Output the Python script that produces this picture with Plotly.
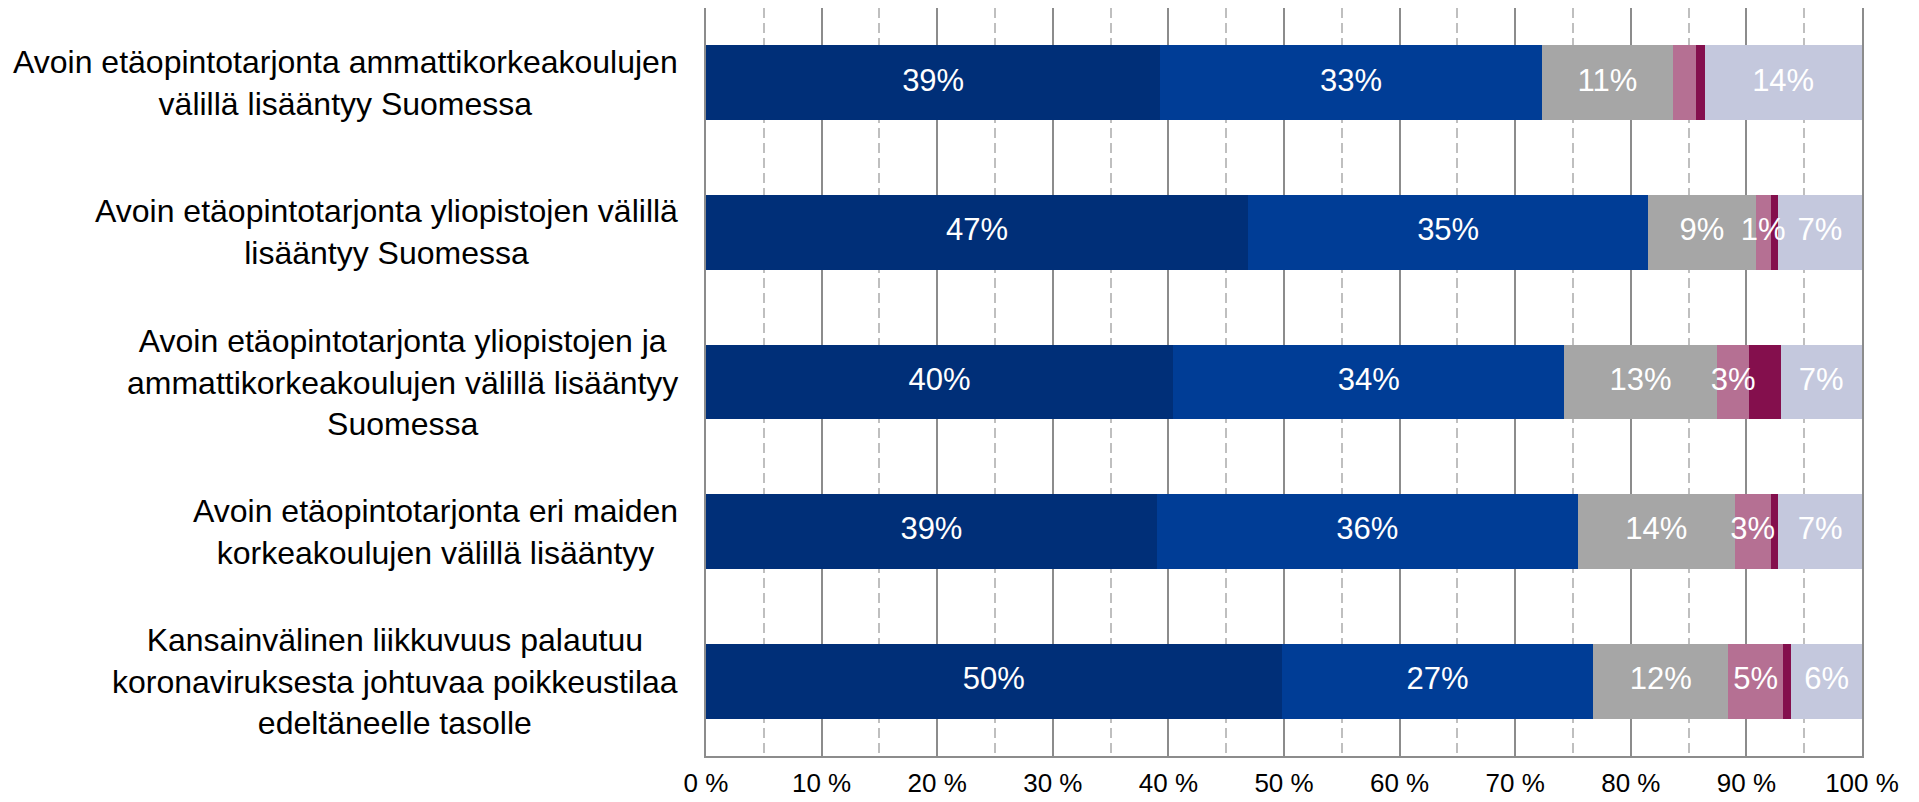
import plotly.graph_objects as go

categories = [
    "Avoin etäopintotarjonta ammattikorkeakoulujen<br>välillä lisääntyy Suomessa",
    "Avoin etäopintotarjonta yliopistojen välillä<br>lisääntyy Suomessa",
    "Avoin etäopintotarjonta yliopistojen ja<br>ammattikorkeakoulujen välillä lisääntyy<br>Suomessa",
    "Avoin etäopintotarjonta eri maiden<br>korkeakoulujen välillä lisääntyy",
    "Kansainvälinen liikkuvuus palautuu<br>koronaviruksesta johtuvaa poikkeustilaa<br>edeltäneelle tasolle",
]

s1_values = [39.3, 46.9, 40.4, 39.0, 49.8]
s2_values = [33.0, 34.6, 33.85, 36.4, 26.95]
s3_values = [11.35, 9.3, 13.2, 13.6, 11.7]
s4_values = [2.0, 1.3, 2.8, 3.1, 4.7]
s5_values = [0.73, 0.6, 2.7, 0.65, 0.75]
s6_values = [13.6, 7.3, 7.05, 7.25, 6.1]

s1_labels = ["39%", "47%", "40%", "39%", "50%"]
s2_labels = ["33%", "35%", "34%", "36%", "27%"]
s3_labels = ["11%", "9%", "13%", "14%", "12%"]
s4_labels = ["", "1%", "3%", "3%", "5%"]
s5_labels = ["", "", "", "", ""]
s6_labels = ["14%", "7%", "7%", "7%", "6%"]

x_tickvals = [0, 10, 20, 30, 40, 50, 60, 70, 80, 90, 100]
x_ticktext = ["0 %", "10 %", "20 %", "30 %", "40 %", "50 %", "60 %", "70 %", "80 %", "90 %", "100 %"]

series = [
    (s1_values, s1_labels, "#002F78"),
    (s2_values, s2_labels, "#003D96"),
    (s3_values, s3_labels, "#A6A6A6"),
    (s4_values, s4_labels, "#B57093"),
    (s5_values, s5_labels, "#840F4D"),
    (s6_values, s6_labels, "#C4C8DD"),
]

FONT = "Arial, 'Liberation Sans', sans-serif"

fig = go.Figure()
for vals, labels, color in series:
    fig.add_trace(go.Bar(
        y=categories, x=vals, orientation="h",
        marker=dict(color=color, line=dict(width=0)),
        textposition="none",
        hoverinfo="skip", showlegend=False,
    ))

# value labels drawn on top of all segments, centred in each segment
lab_x, lab_y, lab_t = [], [], []
base = [0.0] * len(categories)
for vals, labels, _ in series:
    for i, (v, t) in enumerate(zip(vals, labels)):
        if t:
            lab_x.append(base[i] + v / 2)
            lab_y.append(categories[i])
            lab_t.append(t)
        base[i] += v
fig.add_trace(go.Scatter(
    x=lab_x, y=lab_y, text=lab_t, mode="text",
    textposition="middle center",
    textfont=dict(family=FONT, size=31, color="white"),
    hoverinfo="skip", showlegend=False,
))

for cat in categories:
    fig.add_annotation(
        x=0, xref="paper", y=cat, yref="y",
        text=cat, showarrow=False, xanchor="right", yanchor="middle",
        xshift=-26, align="center",
        font=dict(family=FONT, size=32, color="black"),
    )

fig.update_layout(
    barmode="stack", bargap=0.5,
    width=1903, height=794,
    margin=dict(l=698, r=49, t=0, b=46, autoexpand=False),
    paper_bgcolor="white", plot_bgcolor="white",
    font=dict(family=FONT, color="black"),
)
fig.update_xaxes(
    range=[0, 100], tickvals=x_tickvals, ticktext=x_ticktext,
    tickfont=dict(family=FONT, size=26, color="black"),
    showgrid=True, gridcolor="#8C8C8C", gridwidth=1.5,
    showline=True, mirror=True, linecolor="#8C8C8C", linewidth=2,
    zeroline=False, ticks="", ticklabelstandoff=3, automargin=False,
    minor=dict(tick0=5, dtick=10, showgrid=True, gridcolor="#BFBFBF",
               gridwidth=1.5, griddash="10px,5px"),
)
fig.update_yaxes(
    autorange="reversed", showticklabels=False, showgrid=False,
    showline=True, mirror=True, linecolor="#8C8C8C", linewidth=2,
    ticks="", automargin=False,
)

fig.write_html("out.html")
